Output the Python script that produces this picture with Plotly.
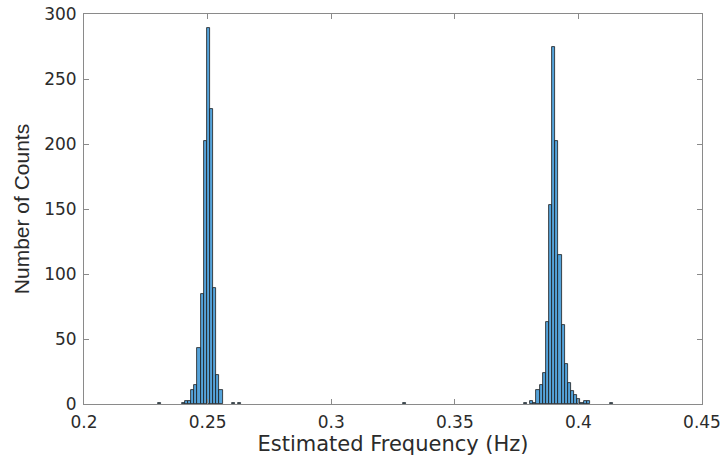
import plotly.graph_objects as go

# Histogram bin centres (Hz) and counts
peak1_centers = [0.23051, 0.24016, 0.24143, 0.24270, 0.24397, 0.24524, 0.24651,
                 0.24778, 0.24905, 0.25032, 0.25159, 0.25286, 0.25413, 0.25540,
                 0.26048, 0.26302]
peak1_counts = [1, 1, 2, 2, 11, 15, 43, 85, 202, 289, 227, 89, 22, 11, 1, 1]

middle_centers = [0.32980]
middle_counts = [1]

peak2_centers = [0.37857, 0.38111, 0.38238, 0.38365, 0.38492, 0.38619, 0.38746,
                 0.38873, 0.39000, 0.39127, 0.39254, 0.39381, 0.39508, 0.39635,
                 0.39762, 0.39889, 0.40016, 0.40143, 0.40270, 0.40397, 0.41356]
peak2_counts = [1, 2, 1, 11, 15, 24, 63, 153, 275, 202, 115, 61, 31, 16, 10, 7,
                4, 1, 2, 2, 1]

bin_width = 0.00127

x_ticks = [0.2, 0.25, 0.3, 0.35, 0.4, 0.45]
x_tick_text = ["0.2", "0.25", "0.3", "0.35", "0.4", "0.45"]
y_ticks = [0, 50, 100, 150, 200, 250, 300]

centers = peak1_centers + middle_centers + peak2_centers
counts = peak1_counts + middle_counts + peak2_counts

fig = go.Figure()
fig.add_trace(go.Bar(
    x=centers, y=counts, width=bin_width,
    marker=dict(color="#55a3da", line=dict(color="#1a1a1a", width=0.8)),
    showlegend=False,
))

axis_col = "#8a8a8a"
font_col = "#2b2b2b"
tick_font = dict(family="DejaVu Sans, sans-serif", size=17, color=font_col)
fig.update_layout(
    width=728, height=470,
    margin=dict(l=84, r=26, t=14, b=66, autoexpand=False),
    plot_bgcolor="white", paper_bgcolor="white",
    font=dict(family="Liberation Sans, Arial, sans-serif", size=18, color=font_col),
    bargap=0,
)
fig.update_xaxes(
    range=[0.2, 0.45], tickvals=x_ticks, ticktext=x_tick_text,
    showgrid=False, zeroline=False,
    showline=True, linecolor=axis_col, linewidth=1, mirror="ticks",
    ticks="inside", ticklen=5, tickcolor=axis_col,
    tickfont=tick_font, ticklabelstandoff=3,
    title=dict(text="Estimated Frequency (Hz)", standoff=3,
               font=dict(family="DejaVu Sans, sans-serif", size=21, color=font_col)),
)
fig.update_yaxes(
    range=[0, 300], tickvals=y_ticks,
    showgrid=False, zeroline=False,
    showline=True, linecolor=axis_col, linewidth=1, mirror="ticks",
    ticks="inside", ticklen=5, tickcolor=axis_col,
    tickfont=tick_font, ticklabelstandoff=3,
    title=dict(text="Number of Counts", standoff=8,
               font=dict(family="Liberation Sans, Arial, sans-serif", size=21, color=font_col)),
)

fig.write_html(
    "out.html",
    config={"displayModeBar": False},
    post_script="document.body.style.margin='0';document.body.style.overflow='hidden';",
)
